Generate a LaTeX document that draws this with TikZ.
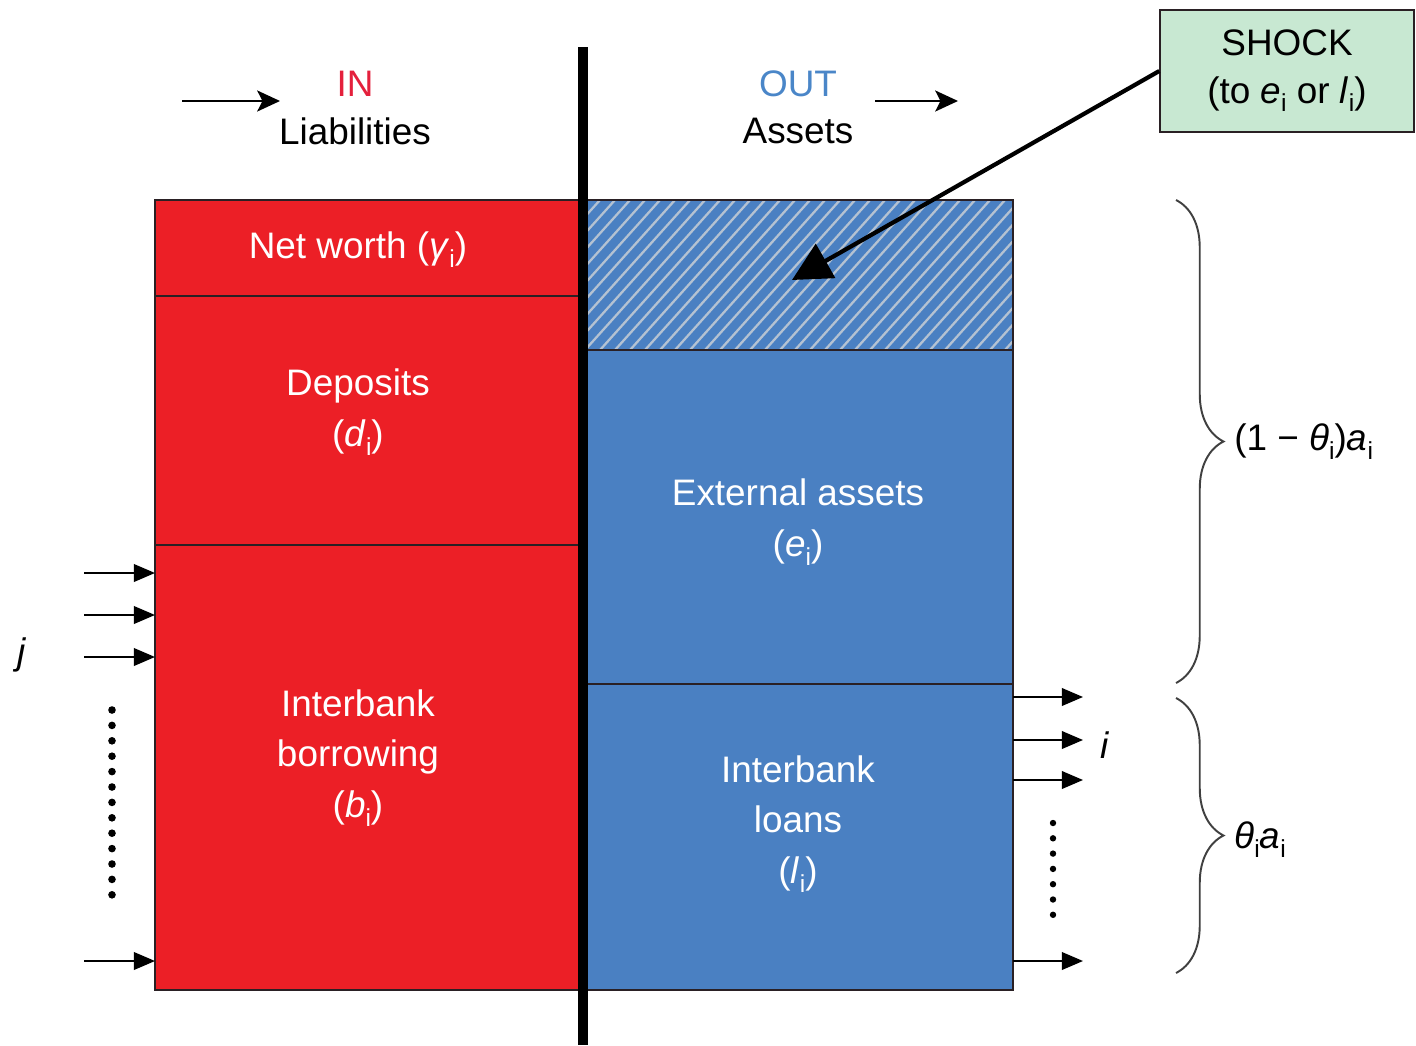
\documentclass[tikz,border=0pt]{standalone}
\usepackage{fontspec}
\setmainfont{Liberation Sans}
\usetikzlibrary{arrows.meta,decorations.pathreplacing}
\definecolor{liabred}{HTML}{EC1F26}
\definecolor{assetblue}{HTML}{4A80C2}
\definecolor{shockgreen}{HTML}{C8E8D2}
\definecolor{hatchgray}{HTML}{B4C2D2}
\definecolor{edgedark}{HTML}{2A2024}
\definecolor{inred}{HTML}{E4203C}
\definecolor{outblue}{HTML}{4A86C8}
\newcommand\lowsub[1]{\raisebox{-0.45ex}{\fontsize{14pt}{14pt}\selectfont #1}}
\begin{document}
\begin{tikzpicture}[x=0.02cm,y=-0.02cm,
  font=\fontsize{21}{25}\selectfont,
  boxedge/.style={draw=edgedark,line width=0.8pt},
  inlabel/.style={text=white,align=center,inner sep=0pt},
  flow/.style={draw=black,line width=1.1pt,-{Triangle[length=12pt,width=10pt]}},
  headflow/.style={draw=black,line width=1.1pt,-{Stealth[length=13pt,width=12pt,inset=3pt]}},
  dotmark/.style={fill=black,draw=none},
  bracket/.style={draw=black!75,line width=1.1pt,decorate,decoration={brace,amplitude=0.95cm}},
  side/.style={anchor=west,inner sep=0pt}]
\useasboundingbox (0,0) rectangle (1416,1045);

% liabilities column
\fill[liabred] (155,200) rectangle (583,990);
\draw[boxedge] (155,200) rectangle (583,990);
\draw[boxedge] (155,296) -- (583,296);
\draw[boxedge] (155,545) -- (583,545);

% assets column
\fill[assetblue] (583,200) rectangle (1013,990);
\begin{scope}
  \clip (588,201) rectangle (1013,350);
  \foreach \k in {0,...,40}
    \draw[hatchgray,line width=1.3pt] (450+\k*15,350) -- ++(135,-150);
\end{scope}
\draw[boxedge] (583,200) rectangle (1013,990);
\draw[boxedge] (583,350) -- (1013,350);
\draw[boxedge] (583,684) -- (1013,684);

% centre divider
\coordinate (divtop) at (583,47);
\coordinate (divbot) at (583,1045);
\draw[black,line width=5.2pt] (divtop) -- (divbot);

% column headings
\node[text=inred,inner sep=0pt] (inlbl) at (355,84) {IN};
\node[inner sep=0pt] (liab) at (355,131) {Liabilities};
\node[text=outblue,inner sep=0pt] (outlbl) at (798,84) {OUT};
\node[inner sep=0pt] (assets) at (798,131) {Assets};
\coordinate (inA) at (182,101);
\coordinate (inB) at (280,101);
\coordinate (outA) at (875,101);
\coordinate (outB) at (958,101);
\draw[headflow] (inA) -- (inB);
\draw[headflow] (outA) -- (outB);

% box labels
\node[inlabel] (networth) at (358,250) {Net worth (\textit{γ}\lowsub{i})};
\node[inlabel] (deposits) at (358,412) {Deposits\\[4pt](\textit{d}\lowsub{i})};
\node[inlabel] (borrow) at (358,758) {Interbank\\[4pt]borrowing\\[4pt](\textit{b}\lowsub{i})};
\node[inlabel] (external) at (798,522) {External assets\\[4pt](\textit{e}\lowsub{i})};
\node[inlabel] (loans) at (798,824) {Interbank\\[4pt]loans\\[4pt](\textit{l}\lowsub{i})};

% shock box and arrow
\node[draw=edgedark,fill=shockgreen,line width=0.8pt,minimum width=254*0.02cm,minimum height=122*0.02cm,align=center,inner sep=0pt]
  (shock) at (1287,71) {SHOCK\\[2pt](to \textit{e}\lowsub{i} or \textit{l}\lowsub{i})};
\coordinate (hit) at (792,280);
\draw[black,line width=2.4pt,-{Triangle[length=22pt,width=22pt]}] (shock.west) -- (hit);

% incoming interbank links
\foreach \n/\y in {a/573,b/615,c/657,d/961}{
  \coordinate (jin\n) at (84,\y);
  \coordinate (jto\n) at (155,\y);
  \draw[flow] (jin\n) -- (jto\n);
}
\node[inner sep=0pt] (jlbl) at (22,655) {\textit{j}};
\foreach \k in {0,...,12}
  \fill[dotmark] (112,710+\k*15.4) circle (3.8);

% outgoing interbank links
\foreach \n/\y in {a/697,b/740,c/780,d/961}{
  \coordinate (iout\n) at (1013,\y);
  \coordinate (ito\n) at (1083,\y);
  \draw[flow] (iout\n) -- (ito\n);
}
\node[inner sep=0pt] (ilbl) at (1105,745) {\textit{i}};
\foreach \k in {0,...,6}
  \fill[dotmark] (1053,823+\k*15.3) circle (3.2);

% asset shares
\coordinate (brA) at (1176,200);
\coordinate (brB) at (1176,683);
\coordinate (brC) at (1176,698);
\coordinate (brD) at (1176,973);
\draw[bracket] (brA) -- (brB);
\draw[bracket] (brC) -- (brD);
\node[side] (extshare) at (1234,442) {(1 − \textit{θ}\lowsub{i})\textit{a}\lowsub{i}};
\node[side] (loanshare) at (1234,840) {\textit{θ}\lowsub{i}\textit{a}\lowsub{i}};
\end{tikzpicture}
\end{document}
